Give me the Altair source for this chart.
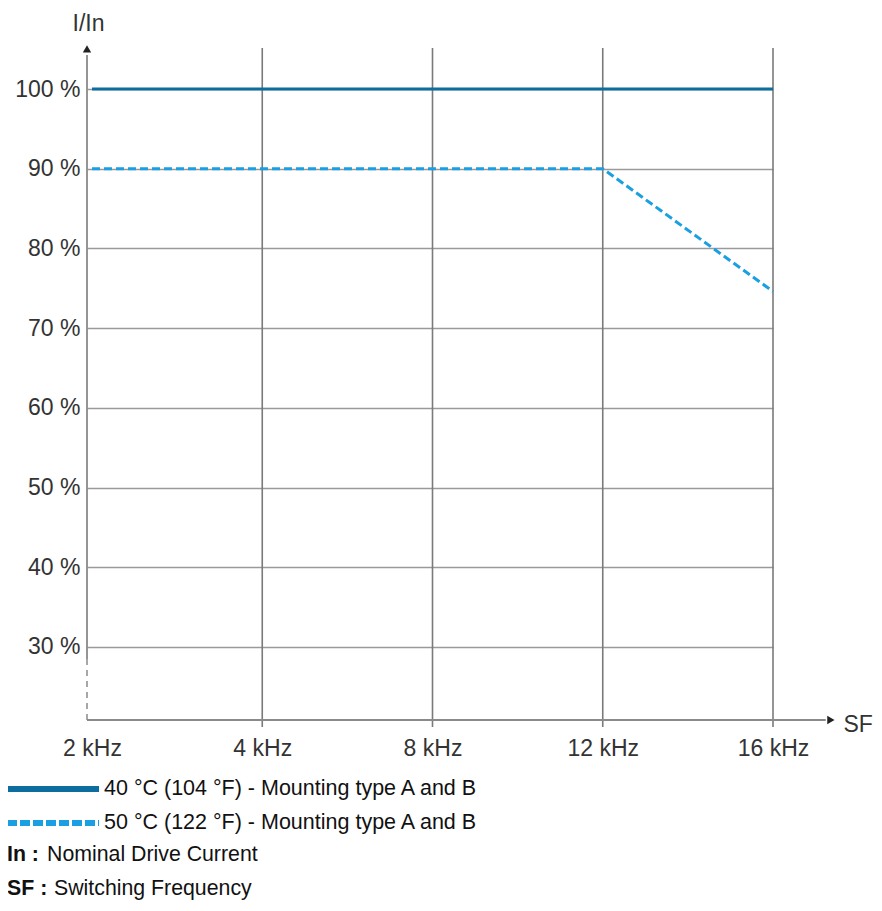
import altair as alt
import pandas as pd

# ---- data ----
freq_labels = ["2 kHz", "4 kHz", "8 kHz", "12 kHz", "16 kHz"]
freq_idx = [0, 1, 2, 3, 4]
series_40 = [100, 100, 100, 100, 100]
series_50 = [90, 90, 90, 90, 74.6]
name_40 = "40 °C (104 °F) - Mounting type A and B"
name_50 = "50 °C (122 °F) - Mounting type A and B"
y_ticks = [30, 40, 50, 60, 70, 80, 90, 100]
grid_x = [1, 2, 3, 4]
notes = [("In :", "Nominal Drive Current"), ("SF :", "Switching Frequency")]

# scale extents (data units)
X_MIN, X_MAX = -0.0294, 4
Y_MIN, Y_MAX = 20.84, 105.52
X_ARROW = 4.34
Y_ARROW = 105.02
Y_DASH = 28.49

C40 = "#0c6d9e"
C50 = "#1a9fe2"
TXT = "#333333"
FONT = "Liberation Sans"
AX_FS = 23

df40 = pd.DataFrame({"x": freq_idx, "y": series_40})
df50 = pd.DataFrame({"x": freq_idx, "y": series_50})

labels_js = "[" + ",".join("'%s'" % s for s in freq_labels) + "]"


def X(field="x"):
    return alt.X(
        f"{field}:Q",
        scale=alt.Scale(domain=[X_MIN, X_MAX], nice=False, zero=False),
        axis=alt.Axis(
            values=freq_idx, labelExpr=f"{labels_js}[datum.value]",
            grid=False, domain=False, ticks=False, labelPadding=17,
            labelFontSize=AX_FS, labelColor=TXT, labelFont=FONT,
            title="SF", titleFont=FONT, titleFontSize=AX_FS, titleFontWeight="normal",
            titleColor=TXT, titleX=756, titleY=4, titleAlign="left",
            titleBaseline="middle", labelFlush=False, labelOverlap=False,
        ),
    )


def Y(field="y"):
    return alt.Y(
        f"{field}:Q",
        scale=alt.Scale(domain=[Y_MIN, Y_MAX], nice=False, zero=False),
        axis=alt.Axis(
            values=y_ticks, labelExpr="datum.value + ' %'",
            grid=True, gridColor="#9a9a9a", gridWidth=1.6,
            domain=False, ticks=False, labelPadding=7,
            labelFontSize=AX_FS, labelColor=TXT, labelFont=FONT,
            title="I/In", titleFont=FONT, titleFontSize=AX_FS, titleFontWeight="normal",
            titleColor=TXT, titleAngle=0, titleX=1, titleY=-22,
            titleAlign="center", titleBaseline="middle", labelOverlap=False,
        ),
    )


vgrid = alt.Chart(pd.DataFrame({"x": grid_x, "y": [19.96] * 4, "y2": [105.14] * 4})).mark_rule(
    color="#7a7a7a", strokeWidth=1.6
).encode(x=X(), y=Y(), y2="y2:Q")

xaxis_line = alt.Chart(pd.DataFrame({"x": [X_MIN], "x2": [4.31], "y": [Y_MIN]})).mark_rule(
    color="#8a8a8a", strokeWidth=1.8
).encode(x=X(), x2="x2:Q", y=Y())

yaxis_line = alt.Chart(pd.DataFrame({"x": [X_MIN], "y": [Y_DASH], "y2": [104.27]})).mark_rule(
    color="#8a8a8a", strokeWidth=1.8
).encode(x=X(), y=Y(), y2="y2:Q")

yaxis_dash = alt.Chart(pd.DataFrame({"x": [X_MIN], "y": [Y_MIN], "y2": [Y_DASH]})).mark_rule(
    color="#8a8a8a", strokeWidth=1.5, strokeDash=[6, 5]
).encode(x=X(), y=Y(), y2="y2:Q")

arrow_x = alt.Chart(pd.DataFrame({"x": [X_ARROW], "y": [Y_MIN]})).mark_point(
    shape="triangle-right", filled=True, color="#222222", size=70, opacity=1
).encode(x=X(), y=Y())

arrow_y = alt.Chart(pd.DataFrame({"x": [X_MIN], "y": [Y_ARROW]})).mark_point(
    shape="triangle-up", filled=True, color="#222222", size=70, opacity=1
).encode(x=X(), y=Y())

line40 = alt.Chart(df40).mark_line(color=C40, strokeWidth=3.2).encode(x=X(), y=Y())
line50 = alt.Chart(df50).mark_line(color=C50, strokeWidth=3, strokeDash=[8, 4]).encode(x=X(), y=Y())

# legend (drawn manually below the plot)
LEG_FS = 21.5
leg_src = pd.DataFrame({"name": [name_40, name_50]})
leg1_line = alt.Chart(leg_src).transform_filter(alt.datum.name == name_40).mark_rule(
    color=C40, strokeWidth=6
).encode(x=alt.value(-80), x2=alt.value(12), y=alt.value(744))
leg2_line = alt.Chart(leg_src).transform_filter(alt.datum.name == name_50).mark_rule(
    color=C50, strokeWidth=6, strokeDash=[10, 3]
).encode(x=alt.value(-80), x2=alt.value(12), y=alt.value(778))
leg1_txt = alt.Chart(leg_src).transform_filter(alt.datum.name == name_40).mark_text(
    align="left", baseline="middle", fontSize=LEG_FS, font=FONT, color="#111111"
).encode(x=alt.value(17), y=alt.value(744), text="name:N")
leg2_txt = alt.Chart(leg_src).transform_filter(alt.datum.name == name_50).mark_text(
    align="left", baseline="middle", fontSize=LEG_FS, font=FONT, color="#111111"
).encode(x=alt.value(17), y=alt.value(778), text="name:N")

NOTE_FS = 21.3
notes_df = pd.DataFrame({"key": [n[0] for n in notes], "desc": [n[1] for n in notes]})
n1k = alt.Chart(notes_df).transform_filter(alt.datum.key == notes[0][0]).mark_text(
    align="left", baseline="middle", fontSize=NOTE_FS, font=FONT, fontWeight="bold", color="#111111"
).encode(x=alt.value(-80), y=alt.value(810), text="key:N")
n1d = alt.Chart(notes_df).transform_filter(alt.datum.key == notes[0][0]).mark_text(
    align="left", baseline="middle", fontSize=NOTE_FS, font=FONT, color="#111111"
).encode(x=alt.value(-40), y=alt.value(810), text="desc:N")
n2k = alt.Chart(notes_df).transform_filter(alt.datum.key == notes[1][0]).mark_text(
    align="left", baseline="middle", fontSize=NOTE_FS, font=FONT, fontWeight="bold", color="#111111"
).encode(x=alt.value(-80), y=alt.value(844), text="key:N")
n2d = alt.Chart(notes_df).transform_filter(alt.datum.key == notes[1][0]).mark_text(
    align="left", baseline="middle", fontSize=NOTE_FS, font=FONT, color="#111111"
).encode(x=alt.value(-33), y=alt.value(844), text="desc:N")

chart = alt.layer(
    vgrid, xaxis_line, yaxis_line, yaxis_dash, arrow_x, arrow_y,
    line40, line50, leg1_line, leg2_line, leg1_txt, leg2_txt, n1k, n1d, n2k, n2d,
).properties(
    width=686, height=675,
    autosize=alt.AutoSizeParams(type="none"),
    padding={"left": 79, "top": 37, "right": 101, "bottom": 183},
    view=alt.ViewBackground(strokeWidth=0, strokeOpacity=0, fill="white"),
).configure_view(strokeWidth=0, strokeOpacity=0).configure_axis(
    gridColor="#9a9a9a", domain=False
).configure(background="white")

chart.save("out.html", embed_options={"renderer": "svg", "actions": False})
